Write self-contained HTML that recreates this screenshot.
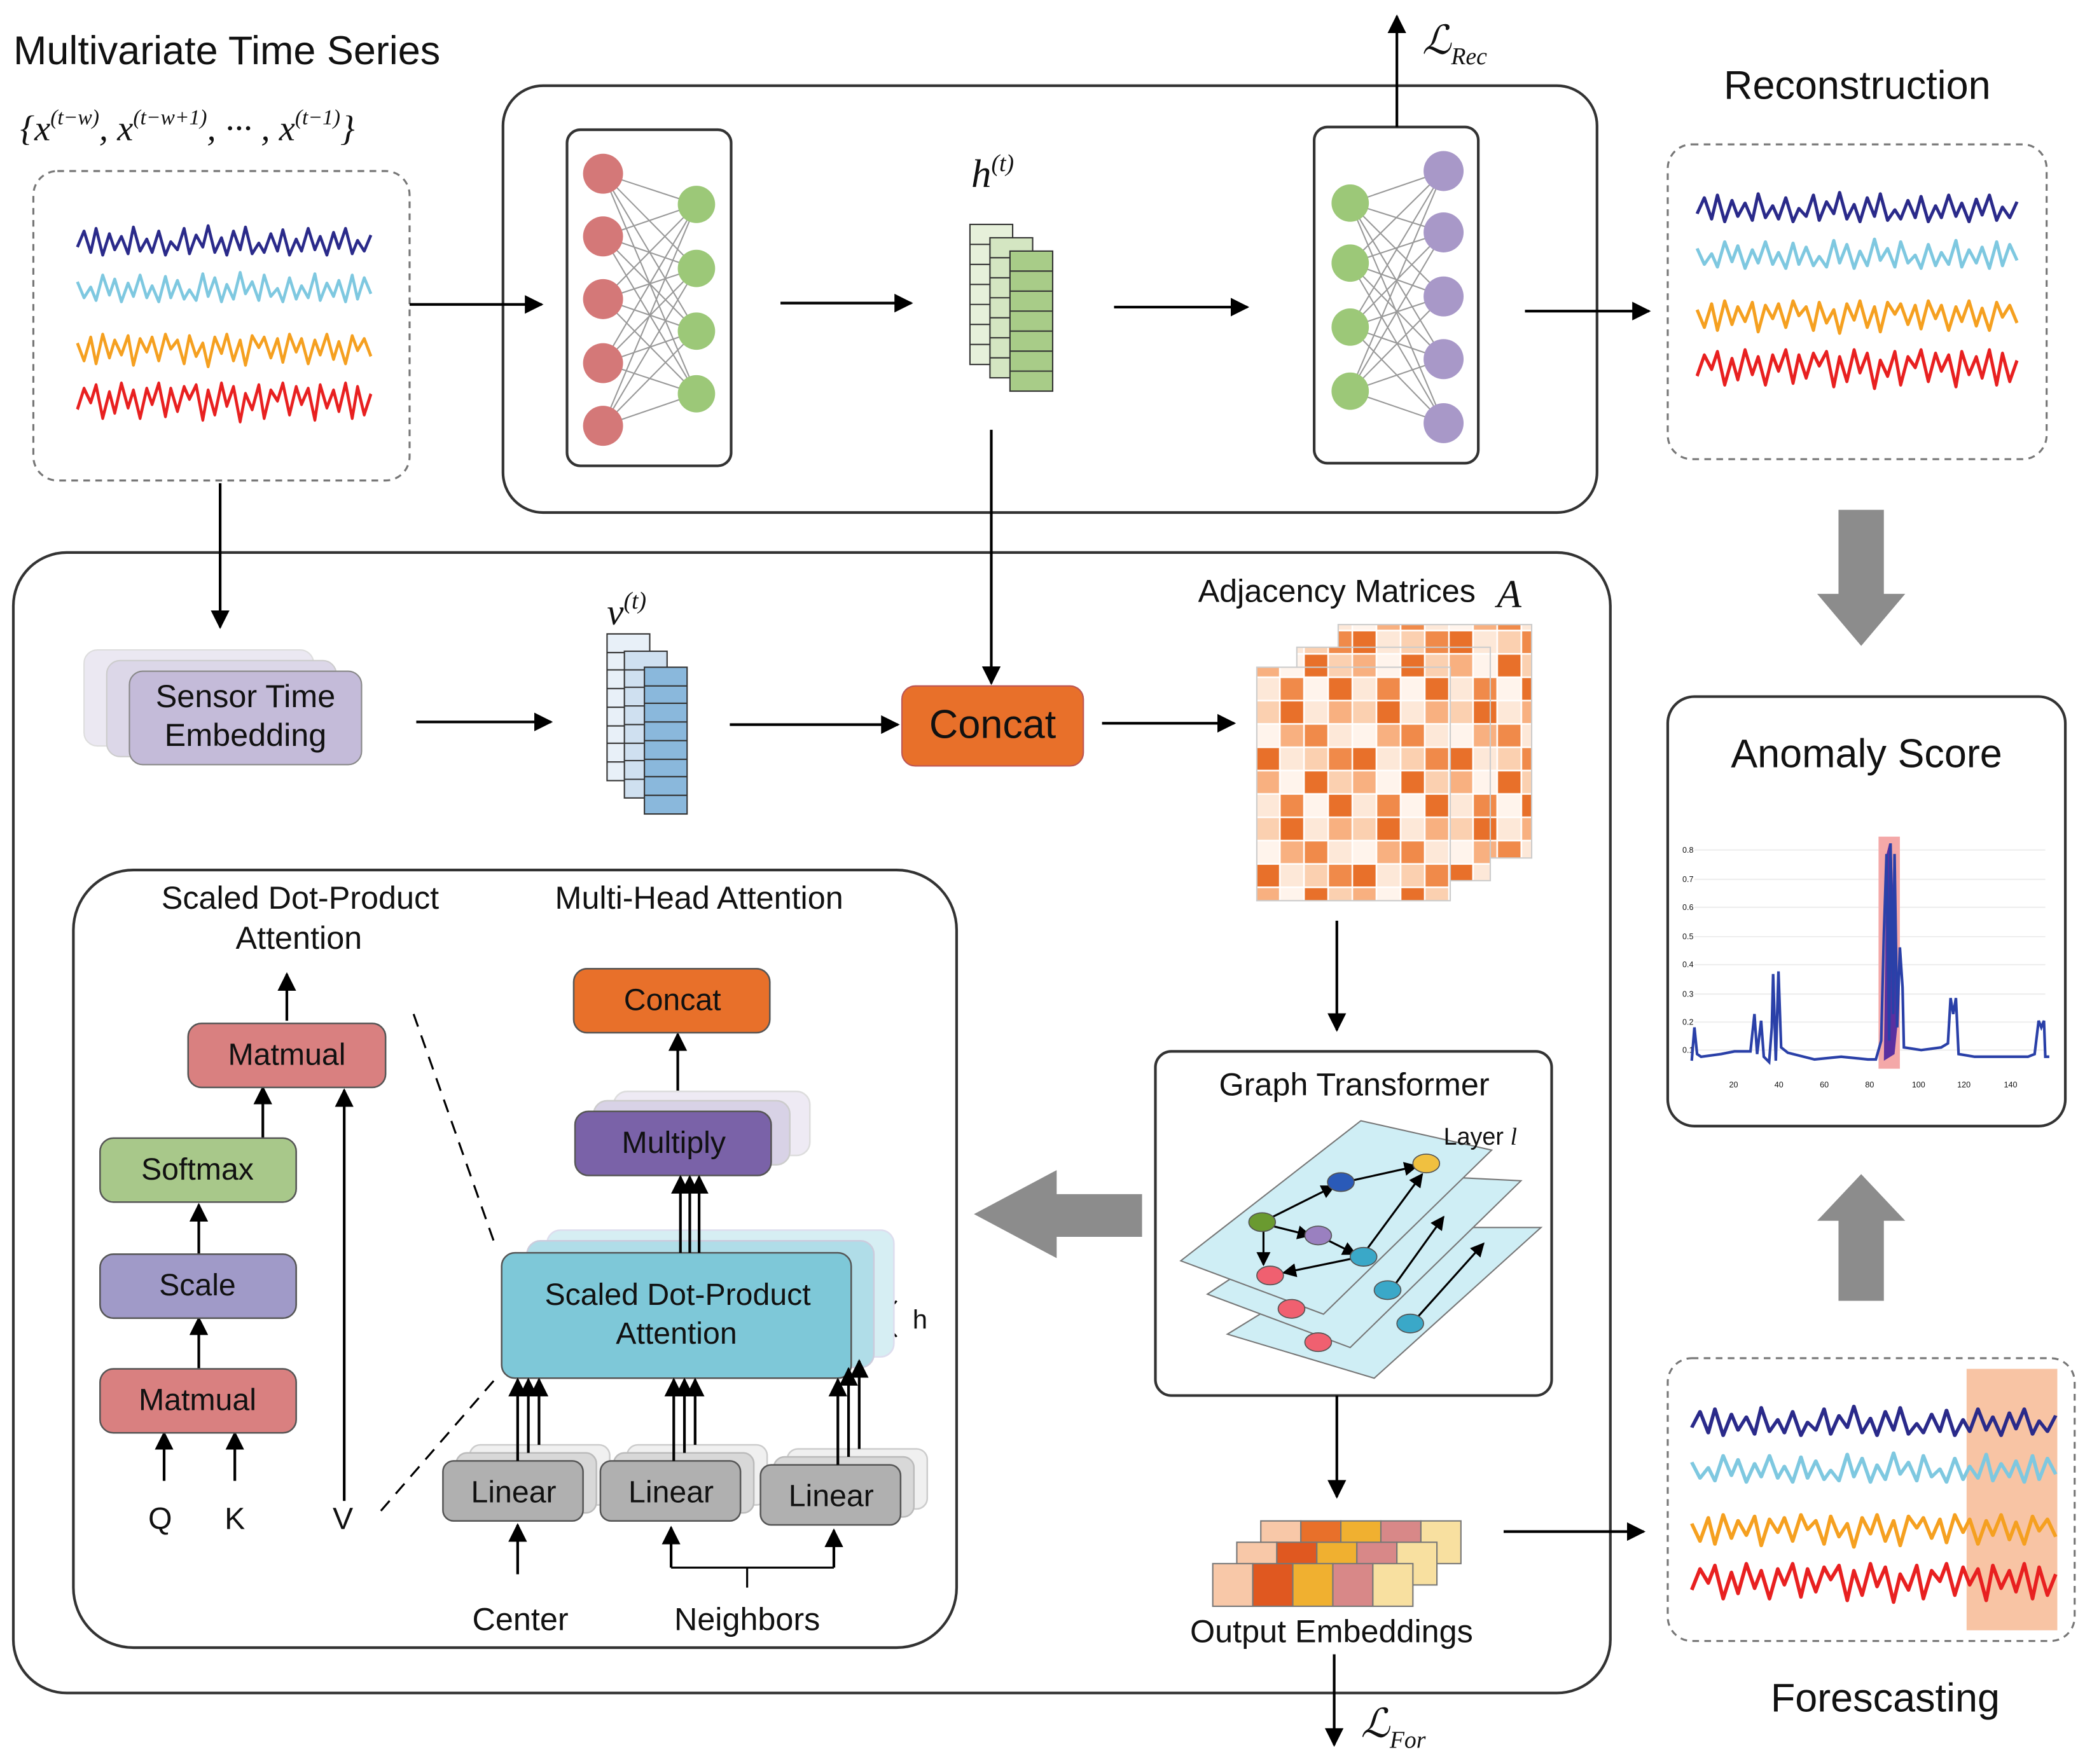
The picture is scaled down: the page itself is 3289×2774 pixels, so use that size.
<!DOCTYPE html>
<html><head><meta charset="utf-8">
<style>
html,body{margin:0;padding:0;background:#fff;}
svg{display:block;}
text{font-family:"Liberation Sans",sans-serif;fill:#111;}
.s{font-family:"Liberation Serif",serif;font-style:italic;}
</style></head>
<body>
<svg width="3289" height="2774" viewBox="0 0 1568 1322" xmlns="http://www.w3.org/2000/svg">
<defs>
<marker id="a" viewBox="0 0 10 10" refX="9" refY="5" markerWidth="7" markerHeight="7" orient="auto-start-reverse"><path d="M0,0 L10,5 L0,10 z" fill="#000"/></marker>
<polyline id="w1" fill="none" stroke-linejoin="round" points="0,0 5,-12 10,4 14,-14 19,6 24,-10 28,2 33,-8 38,5 42,-15 47,3 52,-6 56,4 61,-12 66,6 70,-4 75,2 80,-14 84,5 89,-9 94,0 98,-16 103,4 108,-7 112,6 117,-12 122,2 126,-15 131,5 136,-3 140,4 145,-10 150,3 154,-13 159,6 164,-6 168,3 173,-14 178,2 182,-8 187,6 192,-11 196,1 201,-14 206,5 210,-5 215,3 220,-9"/>
<g id="waves" stroke-width="2.2">
<use href="#w1" transform="translate(0,190)" stroke="#2a2a8a"/>
<use href="#w1" transform="translate(220,225) scale(-1,1)" stroke="#7ec8e0"/>
<use href="#w1" transform="translate(0,262) scale(1,-1.1)" stroke="#f5a020"/>
<use href="#w1" transform="translate(220,300) scale(-1,-1.3)" stroke="#e82020"/>
</g>
<pattern id="adj" patternUnits="userSpaceOnUse" width="72.4" height="87.5">
<g stroke="#fff" stroke-width="1.2">
<rect x="0" y="0" width="18.1" height="17.5" fill="#fbd0b0"/><rect x="18.1" y="0" width="18.1" height="17.5" fill="#e8702a"/><rect x="36.2" y="0" width="18.1" height="17.5" fill="#fde8d8"/><rect x="54.3" y="0" width="18.1" height="17.5" fill="#f8b080"/>
<rect x="0" y="17.5" width="18.1" height="17.5" fill="#fff4ec"/><rect x="18.1" y="17.5" width="18.1" height="17.5" fill="#f8b080"/><rect x="36.2" y="17.5" width="18.1" height="17.5" fill="#f08a4a"/><rect x="54.3" y="17.5" width="18.1" height="17.5" fill="#fde8d8"/>
<rect x="0" y="35" width="18.1" height="17.5" fill="#e8702a"/><rect x="18.1" y="35" width="18.1" height="17.5" fill="#fde8d8"/><rect x="36.2" y="35" width="18.1" height="17.5" fill="#fbd0b0"/><rect x="54.3" y="35" width="18.1" height="17.5" fill="#f08a4a"/>
<rect x="0" y="52.5" width="18.1" height="17.5" fill="#f8b080"/><rect x="18.1" y="52.5" width="18.1" height="17.5" fill="#fff4ec"/><rect x="36.2" y="52.5" width="18.1" height="17.5" fill="#e8702a"/><rect x="54.3" y="52.5" width="18.1" height="17.5" fill="#fbd0b0"/>
<rect x="0" y="70" width="18.1" height="17.5" fill="#fde8d8"/><rect x="18.1" y="70" width="18.1" height="17.5" fill="#f08a4a"/><rect x="36.2" y="70" width="18.1" height="17.5" fill="#fff4ec"/><rect x="54.3" y="70" width="18.1" height="17.5" fill="#e8702a"/>
</g>
</pattern>
</defs>
<g stroke="#000" stroke-width="2" fill="none">
<rect x="377" y="64" width="820" height="320" rx="30" stroke="#333"/>
<rect x="10" y="414" width="1197" height="855" rx="40" stroke="#333"/>
<rect x="55" y="652" width="662" height="583" rx="45" stroke="#333"/>
<rect x="25" y="128" width="282" height="232" rx="18" stroke="#777" stroke-width="1.5" stroke-dasharray="5,4"/>
<rect x="1250" y="108" width="284" height="236" rx="18" stroke="#777" stroke-width="1.5" stroke-dasharray="5,4"/>
<rect x="1250" y="1018" width="305" height="212" rx="18" stroke="#777" stroke-width="1.5" stroke-dasharray="5,4"/>
<rect x="1250" y="522" width="298" height="322" rx="20" stroke="#333"/>
<rect x="425" y="97" width="123" height="252" rx="10" stroke="#333"/>
<rect x="985" y="95" width="123" height="252" rx="10" stroke="#333"/>
<rect x="866" y="788" width="297" height="258" rx="12" stroke="#333"/>
</g>
<rect x="1474" y="1026" width="68" height="196" fill="#f8c4a4"/>
<use href="#waves" transform="translate(58,-5)"/>
<use href="#waves" transform="translate(1272,160) scale(1.09,1) translate(0,-190)"/>
<use href="#waves" transform="translate(1268,1070) scale(1.24,1) translate(0,-190)"/>
<g stroke="#999" stroke-width="1">
<path d="M452,130L522,153M452,130L522,201M452,130L522,248M452,130L522,295M452,177L522,153M452,177L522,201M452,177L522,248M452,177L522,295M452,224L522,153M452,224L522,201M452,224L522,248M452,224L522,295M452,272L522,153M452,272L522,201M452,272L522,248M452,272L522,295M452,319L522,153M452,319L522,201M452,319L522,248M452,319L522,295"/>
<path d="M1012,152L1082,128M1012,152L1082,174M1012,152L1082,222M1012,152L1082,269M1012,152L1082,317M1012,197L1082,128M1012,197L1082,174M1012,197L1082,222M1012,197L1082,269M1012,197L1082,317M1012,245L1082,128M1012,245L1082,174M1012,245L1082,222M1012,245L1082,269M1012,245L1082,317M1012,293L1082,128M1012,293L1082,174M1012,293L1082,222M1012,293L1082,269M1012,293L1082,317"/>
</g>
<g fill="#d47878"><circle cx="452" cy="130" r="15"/><circle cx="452" cy="177" r="15"/><circle cx="452" cy="224" r="15"/><circle cx="452" cy="272" r="15"/><circle cx="452" cy="319" r="15"/></g>
<g fill="#9cc878"><circle cx="522" cy="153" r="14"/><circle cx="522" cy="201" r="14"/><circle cx="522" cy="248" r="14"/><circle cx="522" cy="295" r="14"/>
<circle cx="1012" cy="152" r="14"/><circle cx="1012" cy="197" r="14"/><circle cx="1012" cy="245" r="14"/><circle cx="1012" cy="293" r="14"/></g>
<g fill="#a898c8"><circle cx="1082" cy="128" r="15"/><circle cx="1082" cy="174" r="15"/><circle cx="1082" cy="222" r="15"/><circle cx="1082" cy="269" r="15"/><circle cx="1082" cy="317" r="15"/></g>
<g stroke="#333" stroke-width="1">
<rect x="727" y="168" width="32" height="105" fill="#e6f0da"/><path d="M727,183h32M727,198h32M727,213h32M727,228h32M727,243h32M727,258h32"/>
<rect x="742" y="178" width="32" height="105" fill="#d4e6c2"/><path d="M742,193h32M742,208h32M742,223h32M742,238h32M742,253h32M742,268h32"/>
<rect x="757" y="188" width="32" height="105" fill="#a8cc88"/><path d="M757,203h32M757,218h32M757,233h32M757,248h32M757,263h32M757,278h32"/>
<rect x="455" y="475" width="32" height="110" fill="#e8f0f8"/><path d="M455,489h32M455,502h32M455,516h32M455,530h32M455,544h32M455,557h32M455,571h32"/>
<rect x="468" y="488" width="32" height="110" fill="#cfe0f0"/><path d="M468,502h32M468,515h32M468,529h32M468,543h32M468,557h32M468,570h32M468,584h32"/>
<rect x="483" y="500" width="32" height="110" fill="#8ab8dc"/><path d="M483,514h32M483,527h32M483,541h32M483,555h32M483,569h32M483,582h32M483,596h32"/>
</g>
<g stroke="#000" stroke-width="2" marker-end="url(#a)">
<line x1="307" y1="228" x2="406" y2="228"/>
<line x1="585" y1="227" x2="683" y2="227"/>
<line x1="835" y1="230" x2="935" y2="230"/>
<line x1="1047" y1="95" x2="1047" y2="12"/>
<line x1="1143" y1="233" x2="1236" y2="233"/>
<line x1="165" y1="362" x2="165" y2="470"/>
<line x1="312" y1="541" x2="413" y2="541"/>
<line x1="547" y1="543" x2="673" y2="543"/>
<line x1="743" y1="322" x2="743" y2="512"/>
<line x1="826" y1="542" x2="925" y2="542"/>
<line x1="1002" y1="690" x2="1002" y2="772"/>
<line x1="1002" y1="1046" x2="1002" y2="1122"/>
<line x1="1000" y1="1240" x2="1000" y2="1308"/>
<line x1="1127" y1="1148" x2="1232" y2="1148"/>
<line x1="215" y1="765" x2="215" y2="730"/>
<line x1="197" y1="853" x2="197" y2="815"/>
<line x1="149" y1="940" x2="149" y2="903"/>
<line x1="149" y1="1026" x2="149" y2="988"/>
<line x1="123" y1="1110" x2="123" y2="1074"/>
<line x1="176" y1="1110" x2="176" y2="1074"/>
<line x1="258" y1="1125" x2="258" y2="817"/>
<line x1="508" y1="833" x2="508" y2="775"/>
<line x1="388" y1="1180" x2="388" y2="1143"/>
<line x1="503" y1="1175" x2="503" y2="1145"/>
<line x1="625" y1="1175" x2="625" y2="1147"/>
</g>
<g stroke="#000" stroke-width="1.5" fill="none">
<line x1="503" y1="1175" x2="625" y2="1175"/><line x1="560" y1="1175" x2="560" y2="1190"/>
<line x1="310" y1="760" x2="370" y2="930" stroke-dasharray="10,7"/>
<line x1="370" y1="1035" x2="285" y2="1133" stroke-dasharray="10,7"/>
<path d="M640,985 Q665,985 672,975 M640,992 Q665,992 672,1002"/>
</g>
<g fill="#8c8c8c">
<path d="M1378,382 H1412 V445 H1428 L1395,484 L1362,445 H1378 Z"/>
<path d="M1378,975 H1412 V915 H1428 L1395,880 L1362,915 H1378 Z"/>
<path d="M856,895 V927 H792 V943 L730,910 L792,877 V895 Z"/>
</g>
<text x="10" y="48" font-size="30">Multivariate Time Series</text>
<text x="15" y="105" font-size="27" class="s">{x<tspan font-size="16" dy="-12">(t−w)</tspan><tspan dy="12">, x</tspan><tspan font-size="16" dy="-12">(t−w+1)</tspan><tspan dy="12">, ··· , x</tspan><tspan font-size="16" dy="-12">(t−1)</tspan><tspan dy="12">}</tspan></text>
<text x="1392" y="74" font-size="30" text-anchor="middle">Reconstruction</text>
<text x="1399" y="575" font-size="30" text-anchor="middle">Anomaly Score</text>
<text x="1413" y="1283" font-size="30" text-anchor="middle">Forescasting</text>
<text x="1066" y="40" font-size="30" class="s">ℒ<tspan font-size="18" dy="8">Rec</tspan></text>
<text x="1020" y="1302" font-size="30" class="s">ℒ<tspan font-size="18" dy="8">For</tspan></text>
<text x="728" y="140" font-size="30" class="s">h<tspan font-size="18" dy="-12">(t)</tspan></text>
<text x="455" y="468" font-size="28" class="s">v<tspan font-size="18" dy="-12">(t)</tspan></text>
<text x="898" y="451" font-size="24">Adjacency Matrices</text>
<text x="1122" y="455" font-size="30" class="s">A</text>
<text x="1015" y="821" font-size="24" text-anchor="middle">Graph Transformer</text>
<text x="998" y="1231" font-size="24" text-anchor="middle">Output Embeddings</text>
<text x="225" y="681" font-size="24" text-anchor="middle">Scaled Dot-Product</text>
<text x="224" y="711" font-size="24" text-anchor="middle">Attention</text>
<text x="524" y="681" font-size="24" text-anchor="middle">Multi-Head Attention</text>
<text x="120" y="1146" font-size="23" text-anchor="middle">Q</text>
<text x="176" y="1146" font-size="23" text-anchor="middle">K</text>
<text x="257" y="1146" font-size="23" text-anchor="middle">V</text>
<text x="390" y="1222" font-size="24" text-anchor="middle">Center</text>
<text x="560" y="1222" font-size="24" text-anchor="middle">Neighbors</text>
<text x="684" y="996" font-size="20">h</text>
<rect x="63" y="487" width="172" height="72" rx="10" fill="#ebe8f2" stroke="#ddd"/>
<rect x="80" y="495" width="172" height="72" rx="10" fill="#dcd7e8" stroke="#ccc"/>
<rect x="97" y="503" width="174" height="70" rx="10" fill="#c4bbd9" stroke="#888"/>
<text x="184" y="530" font-size="24" text-anchor="middle">Sensor Time</text>
<text x="184" y="559" font-size="24" text-anchor="middle">Embedding</text>
<rect x="676" y="514" width="136" height="60" rx="10" fill="#e8702a" stroke="#b55"/>
<text x="744" y="553" font-size="30" text-anchor="middle">Concat</text>
<g stroke="#555" stroke-width="1.2">
<rect x="141" y="767" width="148" height="48" rx="10" fill="#d98080"/>
<rect x="75" y="853" width="147" height="48" rx="10" fill="#a8c88a"/>
<rect x="75" y="940" width="147" height="48" rx="10" fill="#a09ac8"/>
<rect x="75" y="1026" width="147" height="48" rx="10" fill="#d98080"/>
<rect x="430" y="726" width="147" height="48" rx="10" fill="#e8702a"/>
<rect x="460" y="818" width="147" height="48" rx="10" fill="#eeeaf4" stroke="#ddd"/>
<rect x="445" y="825" width="147" height="48" rx="10" fill="#d8d2e6" stroke="#ccc"/>
<rect x="431" y="833" width="147" height="48" rx="10" fill="#7a62a8"/>
<rect x="410" y="922" width="260" height="95" rx="10" fill="#d6eef3" stroke="#dde"/>
<rect x="395" y="930" width="260" height="95" rx="10" fill="#b0dde8" stroke="#ccd"/>
<rect x="376" y="939" width="262" height="94" rx="10" fill="#7ec8d8"/>
<rect x="352" y="1083" width="105" height="45" rx="8" fill="#f0f0f0" stroke="#ccc"/>
<rect x="342" y="1089" width="105" height="45" rx="8" fill="#d8d8d8" stroke="#bbb"/>
<rect x="332" y="1095" width="105" height="45" rx="8" fill="#b0b0b0"/>
<rect x="470" y="1083" width="105" height="45" rx="8" fill="#f0f0f0" stroke="#ccc"/>
<rect x="460" y="1089" width="105" height="45" rx="8" fill="#d8d8d8" stroke="#bbb"/>
<rect x="450" y="1095" width="105" height="45" rx="8" fill="#b0b0b0"/>
<rect x="590" y="1086" width="105" height="45" rx="8" fill="#f0f0f0" stroke="#ccc"/>
<rect x="580" y="1092" width="105" height="45" rx="8" fill="#d8d8d8" stroke="#bbb"/>
<rect x="570" y="1098" width="105" height="45" rx="8" fill="#b0b0b0"/>
</g>
<text x="385" y="1126" font-size="23" text-anchor="middle">Linear</text>
<text x="503" y="1126" font-size="23" text-anchor="middle">Linear</text>
<text x="623" y="1129" font-size="23" text-anchor="middle">Linear</text>
<text x="215" y="798" font-size="23" text-anchor="middle">Matmual</text>
<text x="148" y="884" font-size="23" text-anchor="middle">Softmax</text>
<text x="148" y="971" font-size="23" text-anchor="middle">Scale</text>
<text x="148" y="1057" font-size="23" text-anchor="middle">Matmual</text>
<text x="504" y="757" font-size="23" text-anchor="middle">Concat</text>
<text x="505" y="864" font-size="23" text-anchor="middle">Multiply</text>
<text x="508" y="978" font-size="23" text-anchor="middle">Scaled Dot-Product</text>
<text x="507" y="1007" font-size="23" text-anchor="middle">Attention</text>
<g stroke="#000" stroke-width="2" marker-end="url(#a)">
<line x1="510" y1="939" x2="510" y2="882"/><line x1="517" y1="939" x2="517" y2="882"/><line x1="524" y1="939" x2="524" y2="882"/>
<line x1="388" y1="1095" x2="388" y2="1034"/><line x1="396" y1="1089" x2="396" y2="1034"/><line x1="404" y1="1083" x2="404" y2="1034"/>
<line x1="505" y1="1095" x2="505" y2="1034"/><line x1="513" y1="1089" x2="513" y2="1034"/><line x1="521" y1="1083" x2="521" y2="1034"/>
<line x1="628" y1="1098" x2="628" y2="1034"/><line x1="636" y1="1092" x2="636" y2="1026"/><line x1="644" y1="1086" x2="644" y2="1020"/>
</g>
<g stroke="#777" stroke-width="1" fill="#cfeef5">
<polygon points="920,1000 1050,920 1155,920 1030,1033"/>
<polygon points="905,970 1040,880 1140,885 1012,1010"/>
<polygon points="885,945 1020,840 1118,862 992,985"/>
</g>
<g stroke="#000" stroke-width="1.5" marker-end="url(#a)" fill="none">
<line x1="946" y1="916" x2="1000" y2="889"/><line x1="1008" y1="886" x2="1062" y2="874"/>
<line x1="947" y1="918" x2="947" y2="948"/><line x1="950" y1="918" x2="982" y2="926"/>
<line x1="992" y1="928" x2="1016" y2="940"/><line x1="1020" y1="942" x2="962" y2="954"/>
<line x1="1024" y1="937" x2="1066" y2="880"/><line x1="1044" y1="965" x2="1082" y2="912"/>
<line x1="1060" y1="990" x2="1112" y2="932"/>
</g>
<g stroke="#555" stroke-width="0.8">
<ellipse cx="946" cy="916" rx="10" ry="7" fill="#6a9a30"/>
<ellipse cx="1005" cy="886" rx="10" ry="7" fill="#2a5ab8"/>
<ellipse cx="1069" cy="872" rx="10" ry="7" fill="#f0c040"/>
<ellipse cx="988" cy="926" rx="10" ry="7" fill="#9a80c0"/>
<ellipse cx="1022" cy="942" rx="10" ry="7" fill="#3aa8c8"/>
<ellipse cx="952" cy="956" rx="10" ry="7" fill="#f06070"/>
<ellipse cx="1040" cy="967" rx="10" ry="7" fill="#3aa8c8"/>
<ellipse cx="968" cy="981" rx="10" ry="7" fill="#f06070"/>
<ellipse cx="1057" cy="992" rx="10" ry="7" fill="#3aa8c8"/>
<ellipse cx="988" cy="1006" rx="10" ry="7" fill="#f06070"/>
</g>
<text x="1082" y="858" font-size="18">Layer <tspan class="s">l</tspan></text>
<g stroke="#777" stroke-width="1">
<rect x="945" y="1140" width="30" height="32" fill="#f8c8a8"/><rect x="975" y="1140" width="30" height="32" fill="#e8702a"/><rect x="1005" y="1140" width="30" height="32" fill="#f0b030"/><rect x="1035" y="1140" width="30" height="32" fill="#d88888"/><rect x="1065" y="1140" width="30" height="32" fill="#f8e0a0"/>
<rect x="927" y="1156" width="30" height="32" fill="#f8c8a8"/><rect x="957" y="1156" width="30" height="32" fill="#e05820"/><rect x="987" y="1156" width="30" height="32" fill="#f0b030"/><rect x="1017" y="1156" width="30" height="32" fill="#d88888"/><rect x="1047" y="1156" width="30" height="32" fill="#f8e0a0"/>
<rect x="909" y="1172" width="30" height="32" fill="#f8c8a8"/><rect x="939" y="1172" width="30" height="32" fill="#e05820"/><rect x="969" y="1172" width="30" height="32" fill="#f0b030"/><rect x="999" y="1172" width="30" height="32" fill="#d88888"/><rect x="1029" y="1172" width="30" height="32" fill="#f8e0a0"/>
</g>
<g stroke="#ccc" stroke-width="1">
<rect x="1003" y="468" width="145" height="175" fill="url(#adj)"/>
<rect x="972" y="485" width="145" height="175" fill="url(#adj)"/>
<rect x="942" y="500" width="145" height="175" fill="url(#adj)"/>
</g>
<g stroke="#eee" stroke-width="1">
<line x1="1270" y1="637" x2="1533" y2="637"/><line x1="1270" y1="659" x2="1533" y2="659"/><line x1="1270" y1="680" x2="1533" y2="680"/><line x1="1270" y1="702" x2="1533" y2="702"/><line x1="1270" y1="723" x2="1533" y2="723"/><line x1="1270" y1="745" x2="1533" y2="745"/><line x1="1270" y1="766" x2="1533" y2="766"/><line x1="1270" y1="787" x2="1533" y2="787"/>
</g>
<g font-size="6" fill="#666">
<text x="1261" y="639">0.8</text><text x="1261" y="661">0.7</text><text x="1261" y="682">0.6</text><text x="1261" y="704">0.5</text><text x="1261" y="725">0.4</text><text x="1261" y="747">0.3</text><text x="1261" y="768">0.2</text><text x="1261" y="789">0.1</text>
<text x="1296" y="815">20</text><text x="1330" y="815">40</text><text x="1364" y="815">60</text><text x="1398" y="815">80</text><text x="1433" y="815">100</text><text x="1467" y="815">120</text><text x="1502" y="815">140</text>
</g>
<rect x="1408" y="627" width="16" height="174" fill="#f4a8a8"/>
<polygon fill="#5a30a0" points="1412,795 1414,640 1416,632 1418,640 1420,700 1422,770 1420,790"/>
<polyline fill="none" stroke="#2a40a8" stroke-width="2" points="1268,795 1270,770 1272,790 1275,792 1290,790 1300,788 1312,788 1315,760 1317,790 1320,765 1322,792 1326,796 1328,770 1329,730 1331,795 1333,728 1335,785 1340,789 1360,794 1380,792 1400,794 1406,794 1410,780 1412,700 1414,640 1416,780 1417,632 1419,760 1420,640 1422,770 1424,710 1426,740 1427,785 1440,787 1455,785 1460,782 1462,748 1464,760 1466,748 1468,790 1480,792 1520,792 1525,790 1528,765 1530,770 1532,765 1533,792 1536,792"/>
</svg>
</body></html>
